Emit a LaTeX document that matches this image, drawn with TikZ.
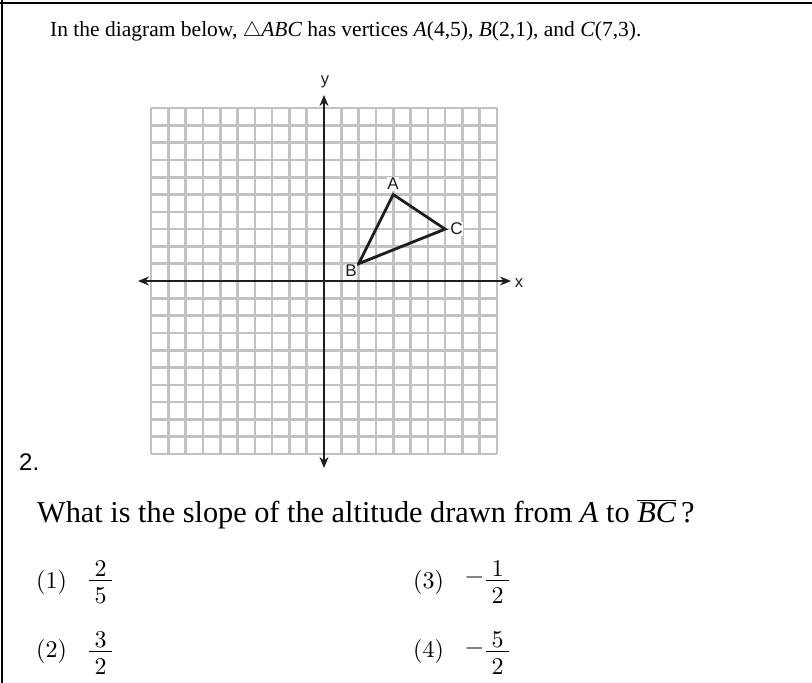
\documentclass[tikz,border=0pt]{standalone}
\usepackage{fontspec}
\setmainfont{Liberation Serif}
\newfontfamily\labelfont{Liberation Sans}
\newfontfamily\lmr{lmroman10-regular.otf}
\usetikzlibrary{arrows.meta}
\definecolor{gridgray}{RGB}{194,194,194}
\definecolor{axisink}{RGB}{30,30,30}
\tikzset{
  gridline/.style={draw=gridgray, line width=2.6pt},
  axisline/.style={draw=axisink, line width=2.4pt, {Stealth[length=11pt,width=9pt]}-{Stealth[length=11pt,width=9pt]}},
  ptlabel/.style={font=\labelfont\fontsize{17}{17}\selectfont, fill=white, inner sep=0.8pt, text=axisink},
  axlabel/.style={font=\labelfont\fontsize{16.5}{16.5}\selectfont, text=axisink, inner sep=0pt},
  body/.style={anchor=base west, inner sep=0pt, text=black},
  choice/.style={anchor=base west, inner sep=0pt, font=\lmr\fontsize{24}{24}\selectfont},
  digit/.style={anchor=center, inner sep=0pt, font=\lmr\fontsize{24}{24}\selectfont},
  fracbar/.style={draw=black, line width=1.3pt}
}
\begin{document}
\begin{tikzpicture}[x=1pt,y=-1pt]
\useasboundingbox (0,0) rectangle (812,683);
\fill[white] (0,0) rectangle (812,683);
% border
\draw[line width=2.6pt] (0,3) -- (812,3);
\draw[line width=2.6pt] (2,0) -- (2,683);
% intro text
\node[body, font=\fontsize{21.5}{24}\selectfont] (intro) at (50,36.5) {In the diagram below, $\triangle$\textit{ABC} has vertices \textit{A}(4,5), \textit{B}(2,1), and \textit{C}(7,3).};
% grid
\foreach \i in {-10,...,10} {
  \draw[gridline] ({324+\i*17.3},{281-10*17.3}) -- ({324+\i*17.3},{281+10*17.3});
  \draw[gridline] ({324-10*17.3},{281+\i*17.3}) -- ({324+10*17.3},{281+\i*17.3});
}
% axes
\coordinate (xl) at (138,281);
\coordinate (xr) at (511,281);
\coordinate (yt) at (324,95);
\coordinate (yb) at (324,468);
\draw[axisline] (xl) -- (xr);
\draw[axisline] (yb) -- (yt);
\node[axlabel] (xlab) at (519,283) {x};
\node[axlabel] (ylab) at (325,82) {y};
% triangle
\coordinate (A) at ({324+4*17.3},{281-5*17.3});
\coordinate (B) at ({324+2*17.3},{281-1*17.3});
\coordinate (C) at ({324+7*17.3},{281-3*17.3});
\draw[line width=2.8pt, draw=axisink, line join=miter] (A) -- (B) -- (C) -- cycle;
\node[ptlabel] (Alab) at (393,184) {A};
\node[ptlabel] (Blab) at (351,271) {B};
\node[ptlabel] (Clab) at (456.5,229) {C};
% question number
\node[body, font=\labelfont\fontsize{24}{24}\selectfont] (num) at (19,470) {2.};
% question
\node[body, font=\fontsize{30.3}{32}\selectfont] (q) at (37,522) {What is the slope of the altitude drawn from \textit{A} to $\overline{\hbox{\itshape BC}}$\,?};
% choice (1)
\node[choice] (c1) at (36,588) {(1)};
\node[digit] (n1) at (100.5,569) {2};
\node[digit] (d1) at (100.5,595.5) {5};
\coordinate (b1l) at (89,580.7); \coordinate (b1r) at (112,580.7);
\draw[fracbar] (b1l) -- (b1r);
% choice (2)
\node[choice] (c2) at (36,657) {(2)};
\node[digit] (n2) at (100.5,640) {3};
\node[digit] (d2) at (100.5,666.5) {2};
\coordinate (b2l) at (89,651.7); \coordinate (b2r) at (112,651.7);
\draw[fracbar] (b2l) -- (b2r);
% choice (3)
\node[choice] (c3) at (413,588) {(3)};
\node[digit] (m3) at (474.5,580.7) {−};
\node[digit] (n3) at (497.5,569) {1};
\node[digit] (d3) at (497.5,595.5) {2};
\coordinate (b3l) at (486,580.7); \coordinate (b3r) at (509,580.7);
\draw[fracbar] (b3l) -- (b3r);
% choice (4)
\node[choice] (c4) at (413,657) {(4)};
\node[digit] (m4) at (474.5,651.7) {−};
\node[digit] (n4) at (497.5,640) {5};
\node[digit] (d4) at (497.5,666.5) {2};
\coordinate (b4l) at (486,651.7); \coordinate (b4r) at (509,651.7);
\draw[fracbar] (b4l) -- (b4r);
\end{tikzpicture}
\end{document}
